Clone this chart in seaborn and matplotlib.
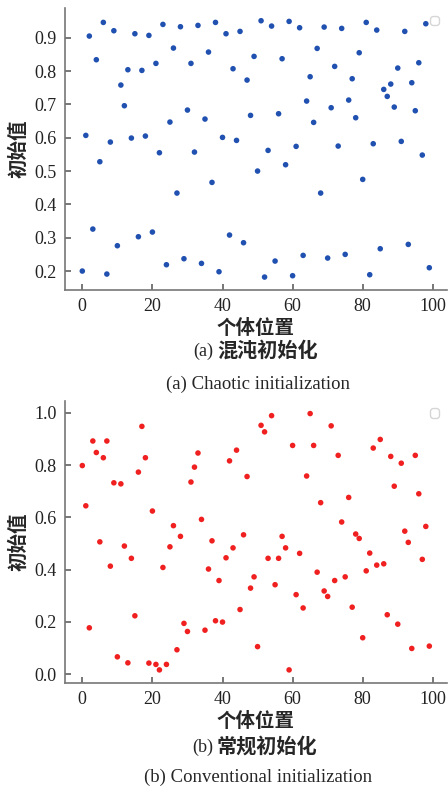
"""Chaotic vs conventional initialization scatter (two stacked panels)."""
import matplotlib
matplotlib.use("Agg")
import matplotlib.pyplot as plt
import numpy as np
import pandas as pd
import seaborn as sns

sns.set_theme(style="ticks")
plt.rcParams["font.family"] = ["Liberation Serif", "Noto Sans CJK SC"]
plt.rcParams["axes.unicode_minus"] = False

# values, one per individual (index 0..99)
chaotic = [
    0.200, 0.607, 0.905, 0.326, 0.834, 0.528, 0.946, 0.191, 0.587, 0.921,
    0.276, 0.758, 0.696, 0.804, 0.599, 0.912, 0.303, 0.802, 0.605, 0.907,
    0.317, 0.823, 0.555, 0.940, 0.219, 0.647, 0.869, 0.434, 0.933, 0.237,
    0.683, 0.823, 0.557, 0.937, 0.223, 0.656, 0.857, 0.466, 0.946, 0.198,
    0.601, 0.912, 0.308, 0.807, 0.592, 0.919, 0.285, 0.773, 0.667, 0.844,
    0.500, 0.951, 0.182, 0.562, 0.935, 0.230, 0.672, 0.837, 0.519, 0.949,
    0.186, 0.574, 0.930, 0.247, 0.710, 0.783, 0.646, 0.868, 0.434, 0.932,
    0.239, 0.690, 0.814, 0.575, 0.928, 0.250, 0.713, 0.777, 0.660, 0.855,
    0.475, 0.946, 0.189, 0.582, 0.923, 0.267, 0.745, 0.724, 0.761, 0.692,
    0.809, 0.589, 0.919, 0.280, 0.765, 0.681, 0.825, 0.548, 0.942, 0.210,
]
conventional = [
    0.798, 0.644, 0.177, 0.892, 0.848, 0.506, 0.828, 0.892, 0.413, 0.732,
    0.066, 0.728, 0.490, 0.043, 0.443, 0.223, 0.773, 0.948, 0.828, 0.042,
    0.624, 0.037, 0.016, 0.408, 0.037, 0.487, 0.568, 0.093, 0.527, 0.194,
    0.163, 0.735, 0.792, 0.846, 0.592, 0.168, 0.402, 0.510, 0.204, 0.358,
    0.199, 0.445, 0.816, 0.483, 0.857, 0.247, 0.533, 0.756, 0.329, 0.372,
    0.105, 0.952, 0.927, 0.443, 0.989, 0.342, 0.443, 0.527, 0.483, 0.016,
    0.875, 0.304, 0.462, 0.253, 0.758, 0.997, 0.875, 0.390, 0.656, 0.318,
    0.297, 0.950, 0.358, 0.837, 0.582, 0.372, 0.676, 0.256, 0.536, 0.519,
    0.139, 0.395, 0.463, 0.865, 0.417, 0.898, 0.422, 0.227, 0.833, 0.719,
    0.191, 0.807, 0.547, 0.504, 0.098, 0.837, 0.690, 0.439, 0.565, 0.107,
]

panels = [
    (chaotic, "#2050b0", "(a)", "混沌初始化", "(a) Chaotic initialization",
     np.arange(0.2, 0.95, 0.1)),
    (conventional, "#f02020", "(b)", "常规初始化", "(b) Conventional initialization",
     np.arange(0.0, 1.05, 0.2)),
]

fig = plt.figure(figsize=(4.48, 7.92), dpi=100)
axes_boxes = [[0.145, 0.634, 0.852, 0.356], [0.145, 0.138, 0.852, 0.356]]
caption_y = [(0.556, 0.515), (0.056, 0.019)]

for box, (vals, color, tag, cap_cn, cap_en, yt), (cy1, cy2) in zip(axes_boxes, panels, caption_y):
    ax = fig.add_axes(box)
    df = pd.DataFrame({"pos": np.arange(len(vals)), "val": vals})
    sns.scatterplot(data=df, x="pos", y="val", ax=ax, color=color, s=16,
                    edgecolor="none", legend=False)
    ax.margins(0.05)
    ax.set_xticks([0, 20, 40, 60, 80, 100])
    ax.set_yticks(yt)
    ax.set_yticklabels([f"{t:.1f}" for t in yt])
    ax.tick_params(direction="in", length=4, color="#666666", labelsize=13,
                   labelcolor="#222222", pad=6)
    for s in ["top", "right"]:
        ax.spines[s].set_visible(False)
    for s in ["left", "bottom"]:
        ax.spines[s].set_color("#777777")
        ax.spines[s].set_linewidth(1.2)
    ax.set_xlabel("个体位置", fontsize=14, fontweight="bold", labelpad=3)
    ax.set_ylabel("初始值", fontsize=14, fontweight="bold", labelpad=4)
    leg = ax.legend(handles=[], loc="upper right", frameon=True, borderpad=0.3)
    leg.get_frame().set_edgecolor("#cccccc")
    # caption: serif tag + CJK title, then English line
    fig.text(0.477, cy1, tag, ha="right", va="center", fontsize=13)
    fig.text(0.484, cy1, cap_cn, ha="left", va="center", fontsize=14.5,
             fontweight="bold")
    fig.text(0.575, cy2, cap_en, ha="center", va="center", fontsize=13.5)

fig.savefig("out.png", dpi=100)
